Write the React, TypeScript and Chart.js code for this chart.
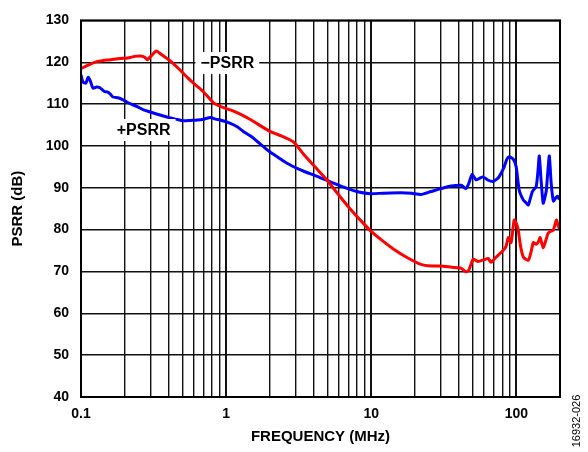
import React, { useEffect, useRef } from "react";
import { Chart, registerables } from "chart.js";

Chart.register(...registerables);

// -PSRR (red)
const minusFreq = [0.1, 0.115, 0.13, 0.142, 0.16, 0.186, 0.21, 0.235, 0.256, 0.275, 0.286, 0.31, 0.33, 0.36, 0.41, 0.47, 0.54, 0.62, 0.7, 0.82, 0.95, 1.07, 1.25, 1.47, 1.73, 2.02, 2.4, 2.92, 3.42, 4.1, 5.0, 5.9, 6.9, 8.3, 9.9, 12, 14.3, 17.5, 22, 26, 30, 36, 41.6, 45, 47, 50.4, 54.5, 60, 64, 67, 72, 81, 85, 88, 92, 96.7, 100, 103, 107, 112, 121, 126, 131, 137, 142, 146, 153, 160, 166, 175, 180, 189, 194, 198];
const minusDb = [118.5, 119.5, 120.2, 120.4, 120.6, 120.9, 121.0, 121.4, 121.5, 121.2, 120.6, 121.8, 122.7, 121.8, 120.4, 118.5, 116.4, 114.5, 112.9, 110.3, 109.2, 108.6, 107.6, 106.3, 104.8, 103.4, 102.4, 100.9, 98.0, 95.0, 91.7, 88.5, 85.6, 82.5, 79.7, 77.3, 75.3, 73.4, 71.7, 71.3, 71.3, 71.0, 70.8, 69.9, 70.3, 72.9, 72.4, 72.8, 73.1, 72.2, 73.3, 75.0, 76.0, 78.1, 76.9, 82.3, 81.5, 80.0, 76.0, 73.4, 72.7, 74.5, 76.9, 76.5, 77.1, 78.1, 75.7, 77.5, 79.2, 79.7, 79.9, 82.3, 81.0, 80.2];

// +PSRR (blue)
const plusFreq = [0.1, 0.103, 0.108, 0.112, 0.116, 0.121, 0.128, 0.135, 0.145, 0.151, 0.158, 0.166, 0.18, 0.195, 0.215, 0.244, 0.27, 0.3, 0.34, 0.39, 0.45, 0.507, 0.57, 0.634, 0.7, 0.78, 0.85, 0.91, 1.07, 1.2, 1.32, 1.5, 1.65, 1.8, 2.0, 2.3, 2.65, 3.2, 3.82, 4.4, 5.0, 5.9, 6.9, 8.2, 9.9, 12, 16, 19, 22, 25.8, 30.3, 35.5, 41.6, 45, 47, 49.6, 52.8, 56, 59, 64, 69, 73, 76, 82.5, 86, 89, 95, 99.8, 104.7, 111.6, 116, 121, 129, 137, 141, 144, 148, 153, 157, 161, 165, 168.8, 174, 180, 186, 192, 198];
const plusDb = [117, 115.3, 115.0, 116.4, 115.5, 113.8, 114.1, 113.9, 113.0, 112.9, 112.5, 111.7, 111.5, 111.0, 110.2, 109.4, 108.6, 108.1, 107.5, 106.9, 106.4, 106.0, 106.1, 106.2, 106.4, 106.8, 106.4, 106.2, 105.4, 104.5, 103.4, 102.2, 101.0, 99.9, 98.6, 97.2, 95.8, 94.4, 93.3, 92.5, 91.7, 90.7, 89.8, 89.0, 88.6, 88.7, 88.8, 88.7, 88.4, 89.1, 89.8, 90.4, 90.6, 89.8, 91.0, 93.2, 91.9, 92.3, 92.6, 91.8, 91.5, 92.0, 92.6, 95.0, 96.8, 97.4, 96.9, 95.0, 89.4, 87.1, 86.5, 85.9, 89.1, 90.3, 94.0, 97.6, 92.0, 86.3, 87.5, 89.4, 94.0, 97.6, 91.0, 86.8, 87.5, 88.0, 87.2];

const xMin = 0.1;
const xMax = 200;
const yMin = 40;
const yMax = 130;
const yStep = 10;
const xTickLabels = ["0.1", "1", "10", "100"];
const xTitle = "FREQUENCY (MHz)";
const yTitle = "PSRR (dB)";
const figureId = "16932-026";
const minusLabel = { text: "\u2212PSRR", x: 1.02, y: 119.8 };
const plusLabel = { text: "+PSRR", x: 0.27, y: 103.8 };

const FONT = "Arial, 'Liberation Sans', Helvetica, sans-serif";

function buildLogTicks(min: number, max: number) {
  const out: { value: number }[] = [];
  for (let e = -1; e <= 2; e++) {
    for (let m = 1; m <= 9; m++) {
      const v = parseFloat((m * Math.pow(10, e)).toPrecision(6));
      if (v >= min - 1e-9 && v <= max + 1e-9) out.push({ value: v });
    }
  }
  if (out[out.length - 1].value < max) out.push({ value: max });
  return out;
}

const isDecade = (v: number) => {
  const l = Math.log10(v);
  return Math.abs(l - Math.round(l)) < 1e-6;
};

export default function App() {
  const ref = useRef<HTMLCanvasElement | null>(null);

  useEffect(() => {
    if (!ref.current) return;
    const decoPlugin = {
      id: "deco",
      afterDatasetsDraw(chart: any) {
        const { ctx, chartArea } = chart;
        ctx.save();
        ctx.strokeStyle = "#000";
        ctx.lineWidth = 2;
        ctx.strokeRect(chartArea.left, chartArea.top, chartArea.right - chartArea.left, chartArea.bottom - chartArea.top);
        ctx.restore();
      },
      afterDraw(chart: any) {
        const { ctx, chartArea, scales } = chart;
        ctx.save();
        ctx.font = `bold 16px ${FONT}`;
        ctx.textAlign = "center";
        ctx.textBaseline = "middle";
        for (const lab of [minusLabel, plusLabel]) {
          const px = scales.x.getPixelForValue(lab.x);
          const py = scales.y.getPixelForValue(lab.y);
          const w = ctx.measureText(lab.text).width;
          ctx.fillStyle = "#fff";
          ctx.fillRect(px - w / 2 - 5, py - 11, w + 10, 22);
          ctx.fillStyle = "#000";
          ctx.fillText(lab.text, px, py + 1);
        }
        ctx.font = `bold 15px ${FONT}`;
        ctx.fillStyle = "#000";
        ctx.fillText(xTitle, (chartArea.left + chartArea.right) / 2, 437);
        ctx.save();
        ctx.translate(18, (chartArea.top + chartArea.bottom) / 2);
        ctx.rotate(-Math.PI / 2);
        ctx.fillText(yTitle, 0, 0);
        ctx.restore();
        ctx.save();
        ctx.font = `11px ${FONT}`;
        ctx.translate(577, 421);
        ctx.rotate(-Math.PI / 2);
        ctx.fillText(figureId, 0, 0);
        ctx.restore();
        ctx.restore();
      },
    };

    const chart = new Chart(ref.current, {
      type: "line",
      data: {
        datasets: [
          {
            label: "-PSRR",
            data: minusFreq.map((f, i) => ({ x: f, y: minusDb[i] })),
            borderColor: "#ff0000",
            borderWidth: 3,
            pointRadius: 0,
            tension: 0.2,
            fill: false,
          },
          {
            label: "+PSRR",
            data: plusFreq.map((f, i) => ({ x: f, y: plusDb[i] })),
            borderColor: "#0000ff",
            borderWidth: 3,
            pointRadius: 0,
            tension: 0.2,
            fill: false,
          },
        ],
      },
      options: {
        animation: false,
        responsive: false,
        devicePixelRatio: 1,
        layout: { padding: { top: 14, right: 28, left: 0, bottom: 0 } },
        plugins: { legend: { display: false }, tooltip: { enabled: false } },
        scales: {
          x: {
            type: "logarithmic",
            min: xMin,
            max: xMax,
            afterBuildTicks: (scale: any) => {
              scale.ticks = buildLogTicks(xMin, xMax);
            },
            afterFit: (scale: any) => {
              scale.height = 55;
            },
            border: { display: false },
            grid: {
              color: "#111",
              lineWidth: (c: any) => (c.tick && isDecade(c.tick.value) ? 2 : 1.4),
              drawTicks: false,
            },
            ticks: {
              autoSkip: false,
              maxRotation: 0,
              minRotation: 0,
              padding: 9,
              color: "#000",
              font: { family: FONT, size: 14, weight: "bold" },
              callback: (v: any) => {
                const val = Number(v);
                const lbl = xTickLabels.find((t) => Math.abs(parseFloat(t) - val) < 1e-9);
                return lbl ?? "";
              },
            },
          },
          y: {
            type: "linear",
            min: yMin,
            max: yMax,
            afterFit: (scale: any) => {
              scale.width = 81;
            },
            border: { display: false },
            grid: { color: "#111", lineWidth: 1.4, drawTicks: false },
            ticks: {
              stepSize: yStep,
              padding: 12,
              color: "#000",
              font: { family: FONT, size: 14, weight: "bold" },
            },
          },
        },
      } as any,
      plugins: [decoPlugin],
    });
    return () => chart.destroy();
  }, []);

  return (
    <div style={{ position: "absolute", left: 0, top: 0, width: 588, height: 452, background: "#fff" }}>
      <canvas ref={ref} width={588} height={452} style={{ display: "block" }} />
    </div>
  );
}
